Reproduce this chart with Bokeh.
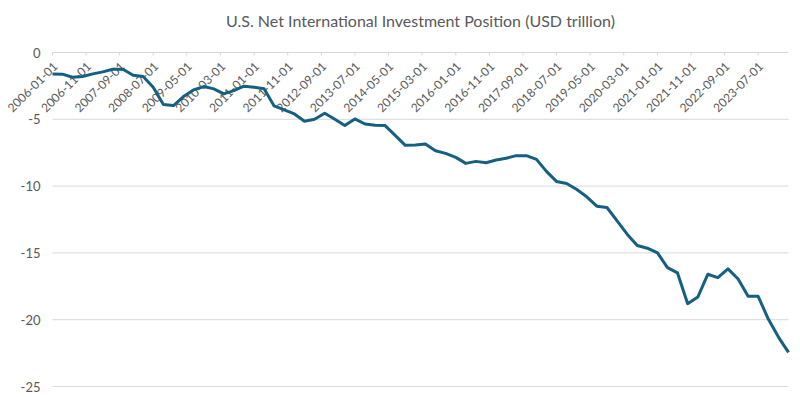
import numpy as np
import pandas as pd
from math import pi
from bokeh.plotting import figure
from bokeh.models import Range1d, ColumnDataSource
from bokeh.core.properties import value
from bokeh.embed import file_html
from bokeh.resources import INLINE

# ---- data -------------------------------------------------------------
quarters = pd.date_range("2006-01-01", periods=74, freq="QS")
niip = [
    -1.6, -1.62, -1.85, -1.8, -1.6, -1.45, -1.25, -1.25,
    -1.7, -1.8, -2.6, -3.9, -3.97, -3.3, -2.8, -2.55,
    -2.72, -3.1, -2.85, -2.52, -2.6, -2.72, -4.0, -4.3,
    -4.6, -5.15, -5.0, -4.55, -5.0, -5.47, -4.97, -5.35,
    -5.45, -5.47, -6.2, -6.95, -6.92, -6.85, -7.35, -7.55,
    -7.85, -8.3, -8.15, -8.25, -8.05, -7.92, -7.72, -7.72,
    -8.0, -8.9, -9.65, -9.8, -10.25, -10.8, -11.5, -11.6,
    -12.6, -13.6, -14.45, -14.65, -15.0, -16.1, -16.5, -18.8,
    -18.3, -16.6, -16.85, -16.2, -16.95, -18.25, -18.25, -19.95,
    -21.3, -22.45,
]
tick_labels = [
    "2006-01-01", "2006-11-01", "2007-09-01", "2008-07-01", "2009-05-01",
    "2010-03-01", "2011-01-01", "2011-11-01", "2012-09-01", "2013-07-01",
    "2014-05-01", "2015-03-01", "2016-01-01", "2016-11-01", "2017-09-01",
    "2018-07-01", "2019-05-01", "2020-03-01", "2021-01-01", "2021-11-01",
    "2022-09-01", "2023-07-01",
]
y_ticks = [0, -5, -10, -15, -20, -25]
title_text = "U.S. Net International Investment Position (USD trillion)"

# ---- layout (pixels of the 800x397 canvas) ----------------------------
W, H = 800, 397
PL, PR, PT, PB = 52, 788, 52, 386      # plot-area edges
TITLE_Y = 20

GRAY = "#595959"
GRID = "#d9d9d9"
FONT = "Lato"

t0 = quarters[0].value / 1e6
t1 = quarters[-1].value / 1e6
xs = (t1 - t0) / (PR - PL)             # ms per pixel
y_top, y_bot = max(y_ticks), min(y_ticks)
ys = (y_top - y_bot) / (PB - PT)       # units per pixel

p = figure(
    width=W, height=H,
    x_range=Range1d(t0 - PL * xs, t1 + (W - PR) * xs),
    y_range=Range1d(y_bot - (H - PB) * ys, y_top + PT * ys),
    x_axis_location=None, y_axis_location=None,
    min_border=0, output_backend="svg", toolbar_location=None,
)
p.outline_line_color = None
p.grid.visible = False

# horizontal grid lines + y labels
gsrc = ColumnDataSource(dict(x0=[t0] * len(y_ticks), x1=[t1] * len(y_ticks),
                             y=y_ticks, lab=[str(v) for v in y_ticks]))
p.segment(x0="x0", y0="y", x1="x1", y1="y", source=gsrc, line_color=GRID, line_width=1)
p.text(x="x0", y="y", text="lab", source=gsrc, x_offset=-12,
       text_align="right", text_baseline="middle",
       text_font=value(FONT), text_font_size="13px", text_color=GRAY)

# x tick marks and rotated labels hanging below the zero line
tick_dt = pd.to_datetime(tick_labels)
tsrc = ColumnDataSource(dict(x=tick_dt, y0=[0] * len(tick_dt),
                             y1=[-3 * ys] * len(tick_dt), lab=tick_labels))
p.segment(x0="x", y0="y0", x1="x", y1="y1", source=tsrc, line_color=GRID, line_width=1)
p.text(x="x", y="y0", text="lab", source=tsrc, angle=pi / 4,
       text_align="right", text_baseline="middle", x_offset=3, y_offset=12,
       text_font=value(FONT), text_font_size="12px", text_color=GRAY)

# title
p.text(x=[(t0 + t1) / 2], y=[y_top + (PT - TITLE_Y) * ys], text=[title_text],
       text_align="center", text_baseline="middle",
       text_font=value(FONT), text_font_size="16px", text_color=GRAY)

# data line
p.line(quarters, niip, line_color="#156082", line_width=3, line_join="round")

open("out.html", "w").write(file_html(p, INLINE))
